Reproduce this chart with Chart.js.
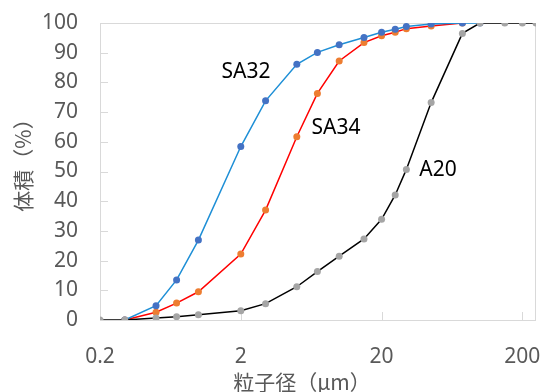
<!DOCTYPE html>
<html>
<head>
<meta charset="utf-8">
<script src="https://cdn.jsdelivr.net/npm/chart.js@4/dist/chart.umd.min.js"></script>
<style>
  html, body { margin: 0; padding: 0; background: #fff; }
  #wrap { width: 543px; height: 392px; }
</style>
</head>
<body>
<div id="wrap"><canvas id="c" width="543" height="392"></canvas></div>
<script>
// particle size (um) and cumulative volume (%)
const sizes = [0.2, 0.3, 0.5, 0.7, 1, 2, 3, 5, 7, 10, 15, 20, 25, 30, 45, 75, 100, 150, 200, 250];
const a20  = [0, 0, 0.7, 1.1, 1.8, 3.1, 5.5, 11.2, 16.3, 21.5, 27.3, 33.9, 42.1, 50.7, 73.2, 96.5, 100, 100, 100, 100];
const sa32 = [null, 0, 4.8, 13.5, 26.9, 58.4, 73.8, 86.1, 90.1, 92.7, 95.1, 96.9, 97.9, 98.8, 99.7, 100, 100, null, null, null];
const sa34 = [null, 0, 2.6, 5.7, 9.5, 22.2, 37.0, 61.7, 76.3, 87.2, 93.4, 95.7, 96.9, 98.1, 99.0, 100, null, null, null, null];
const xTicks = [0.2, 2, 20, 200];
const seriesNames = ['A20', 'SA32', 'SA34'];
// label anchor in data units: [x um, y %]
const labelAt = [[50.3, 50.5], [2.18, 83.5], [9.5, 64.6]];
const xTitle = '粒子径（μm）';
const yTitle = '体積（%）';

const FONT = "'Noto Sans', 'Noto Sans CJK JP', sans-serif";
const CJK = "'Noto Sans CJK JP', sans-serif";
const GREY = '#595959';
const AXIS = '#d9d9d9';

const pts = (ys) => sizes.map((x, i) => ({ x, y: ys[i] })).filter(p => p.y !== null);

const frame = {
  id: 'frame',
  beforeDatasetsDraw(chart) {
    const { ctx, chartArea: a, scales } = chart;
    ctx.save();
    ctx.strokeStyle = AXIS;
    ctx.lineWidth = 1;
    ctx.strokeRect(a.left + 0.5, a.top + 0.5, a.right - a.left - 1, a.bottom - a.top);
    ctx.beginPath();
    for (let v = 10; v < 100; v += 10) {
      const y = Math.round(scales.y.getPixelForValue(v)) + 0.5;
      ctx.moveTo(a.left, y); ctx.lineTo(a.left + 8, y);
    }
    xTicks.slice(1).forEach(v => {
      const x = Math.round(scales.x.getPixelForValue(v)) + 0.5;
      ctx.moveTo(x, a.bottom); ctx.lineTo(x, a.bottom - 8);
    });
    ctx.stroke();
    ctx.restore();
  },
  afterDraw(chart) {
    const { ctx, chartArea: a } = chart;
    ctx.save();
    ctx.font = '21px ' + CJK;
    ctx.fillStyle = GREY;
    ctx.textAlign = 'center';
    ctx.textBaseline = 'middle';
    ctx.fillText(xTitle, 302, 382);
    ctx.translate(23, 160);
    ctx.rotate(-Math.PI / 2);
    ctx.fillText(yTitle, 0, 0);
    ctx.restore();
  }
};

const seriesLabels = {
  id: 'seriesLabels',
  afterDatasetsDraw(chart) {
    const { ctx, scales } = chart;
    ctx.save();
    ctx.font = '21px ' + FONT;
    ctx.fillStyle = '#000';
    ctx.textAlign = 'center';
    ctx.textBaseline = 'middle';
    seriesNames.forEach((n, i) => {
      ctx.fillText(n, scales.x.getPixelForValue(labelAt[i][0]), scales.y.getPixelForValue(labelAt[i][1]));
    });
    ctx.restore();
  }
};

new Chart(document.getElementById('c'), {
  type: 'line',
  data: {
    datasets: [
      { label: 'A20', data: pts(a20), borderColor: '#000', backgroundColor: '#a5a5a5', pointBorderColor: '#a5a5a5', order: 1 },
      { label: 'SA32', data: pts(sa32), borderColor: '#1e8fd6', backgroundColor: '#4472c4', pointBorderColor: '#4472c4', order: 2 },
      { label: 'SA34', data: pts(sa34), borderColor: '#ff0000', backgroundColor: '#ed7d31', pointBorderColor: '#ed7d31', order: 3 }
    ]
  },
  options: {
    responsive: false,
    animation: false,
    layout: { padding: { top: 23, right: 7, left: 0, bottom: 0 } },
    elements: {
      line: { borderWidth: 1.5, tension: 0 },
      point: { radius: 3.5, borderWidth: 0 }
    },
    plugins: { legend: { display: false }, tooltip: { enabled: false } },
    scales: {
      x: {
        type: 'logarithmic',
        min: 0.2,
        max: 250,
        grid: { display: false, drawTicks: false },
        border: { display: false },
        afterBuildTicks: s => { s.ticks = xTicks.map(v => ({ value: v })); },
        afterFit: s => { s.height = 72; s.paddingLeft = 0; s.paddingRight = 0; },
        ticks: {
          color: GREY, font: { family: FONT, size: 21 }, padding: 24, maxRotation: 0,
          callback: v => String(v)
        }
      },
      y: {
        min: 0,
        max: 100,
        grid: { display: false, drawTicks: false },
        border: { display: false },
        afterFit: s => { s.width = 100; s.paddingTop = 0; s.paddingBottom = 0; },
        ticks: { stepSize: 10, color: GREY, font: { family: FONT, size: 21 }, padding: 22 }
      }
    }
  },
  plugins: [frame, seriesLabels]
});
</script>
</body>
</html>
